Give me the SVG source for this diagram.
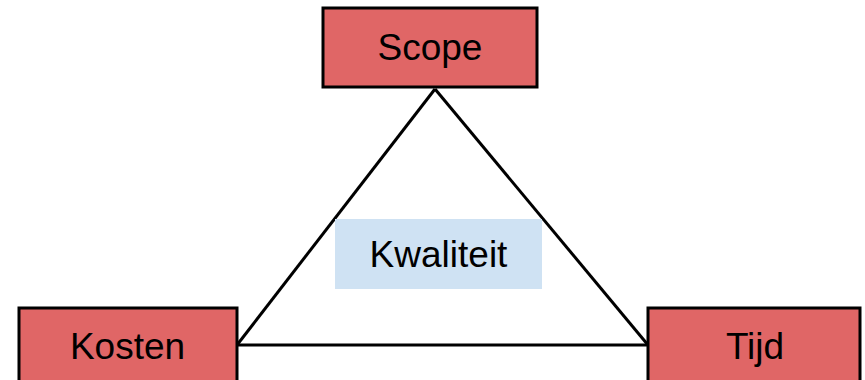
<svg xmlns="http://www.w3.org/2000/svg" width="865" height="380" viewBox="0 0 865 380">
<style>
.node{fill:#e06666;stroke:#000;stroke-width:3}
.lbl{font-family:"Liberation Sans",Arial,sans-serif;font-size:37px;fill:#000;text-anchor:middle}
.edge{stroke:#000;stroke-width:3;fill:none}
</style>
<rect width="865" height="380" fill="#fff"/>
<g id="connectors">
<line class="edge" x1="435" y1="89" x2="237" y2="345"/>
<line class="edge" x1="435" y1="89" x2="648" y2="345"/>
<line class="edge" x1="237" y1="345" x2="648" y2="345"/>
</g>
<g id="kwaliteit">
<rect x="335" y="219" width="207" height="70" fill="#cfe2f3"/>
<text class="lbl" x="438.5" y="267">Kwaliteit</text>
</g>
<g id="scope">
<rect class="node" x="323" y="8" width="214" height="79"/>
<text class="lbl" x="430" y="60">Scope</text>
</g>
<g id="kosten">
<rect class="node" x="19" y="308" width="218" height="80"/>
<text class="lbl" x="127.5" y="359">Kosten</text>
</g>
<g id="tijd">
<rect class="node" x="648" y="308" width="212" height="80"/>
<text class="lbl" x="755" y="359">Tijd</text>
</g>
</svg>
